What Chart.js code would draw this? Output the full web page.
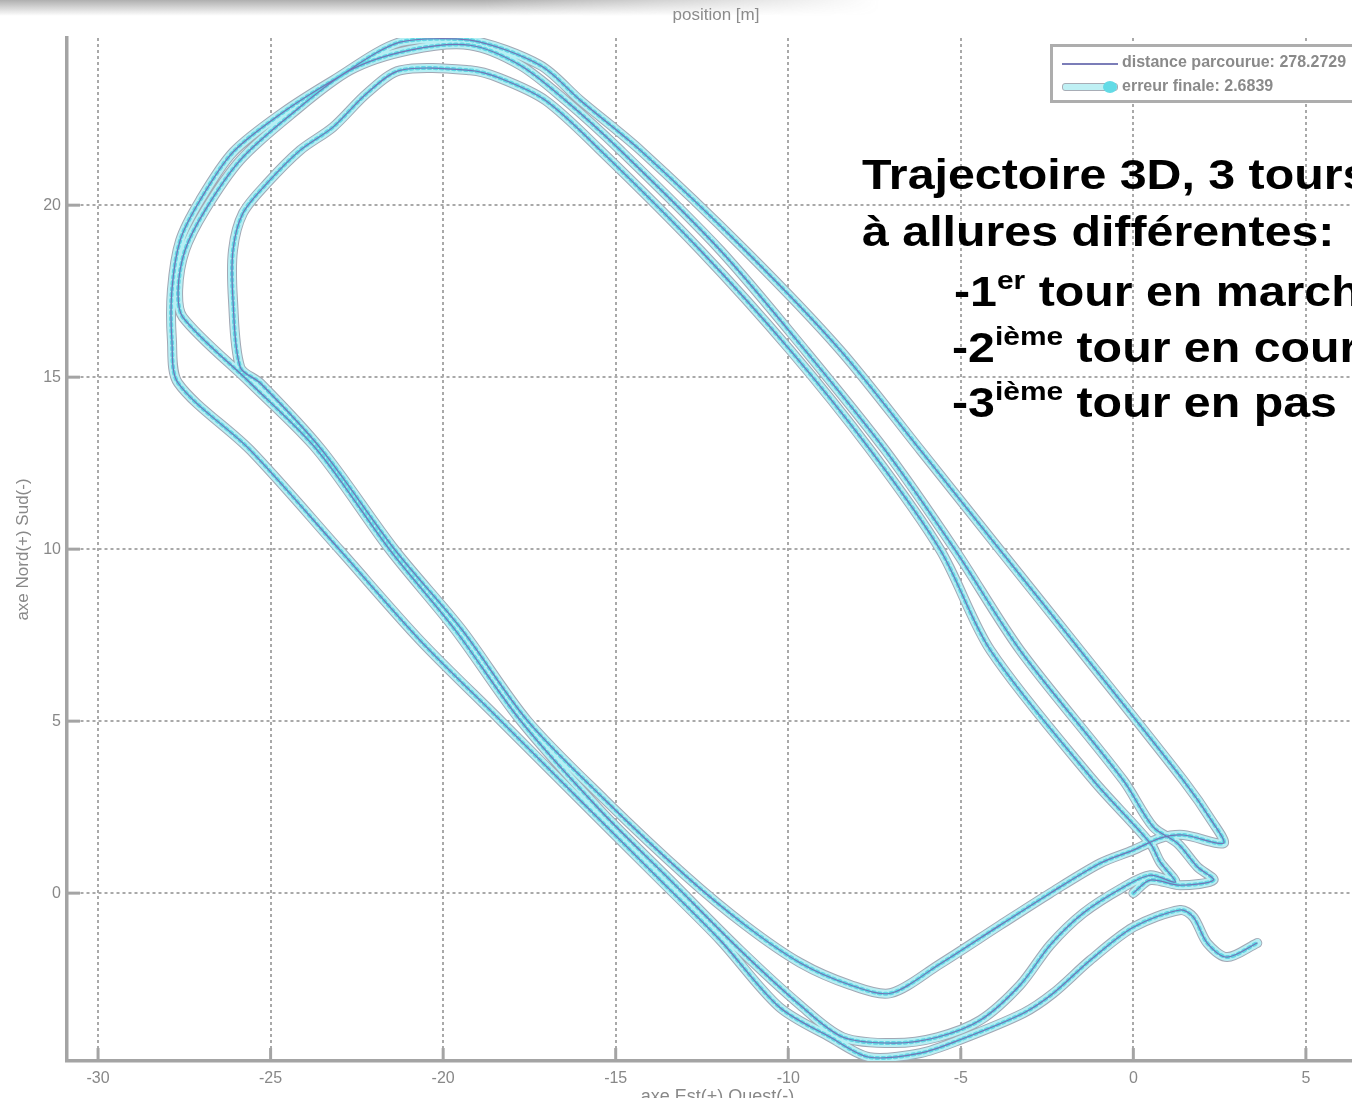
<!DOCTYPE html>
<html>
<head>
<meta charset="utf-8">
<script src="https://cdn.jsdelivr.net/npm/chart.js@4.4.1/dist/chart.umd.min.js"></script>
<style>
  html, body { margin: 0; padding: 0; background: #fff; overflow: hidden; }
  #wrap { position: relative; width: 1352px; height: 1098px; overflow: hidden; background: #fff; }
  #plot { position: absolute; left: 0; top: 0; filter: blur(0.6px); }
  .shade { position: absolute; left: 0; top: 0; width: 880px; height: 16px;
    background: linear-gradient(to bottom, rgba(110,110,110,0.55), rgba(255,255,255,0));
    -webkit-mask-image: linear-gradient(to right, #000 55%, transparent);
    mask-image: linear-gradient(to right, #000 55%, transparent); }
  .ptitle { position: absolute; top: 5px; left: 566px; width: 300px; text-align: center;
    font: 17px "Liberation Sans", Arial, sans-serif; color: #8c8c8c; filter: blur(0.6px); }
  .legend { position: absolute; left: 1050px; top: 44px; width: 360px; height: 53px;
    border: 3px solid #adadad; background: #fff; filter: blur(0.6px); }
  .lrow { position: absolute; left: 0; height: 20px; width: 100%; }
  .lt { position: absolute; left: 69px; top: -1px; font: bold 16px "Liberation Sans", Arial, sans-serif;
    color: #8a8a8a; white-space: nowrap; }
  .s1 { position: absolute; left: 9px; top: 9px; width: 56px; height: 0; border-top: 2px solid #7b7db8; }
  .s2 { position: absolute; left: 9px; top: 5px; width: 54px; height: 6px; background: #bff0f4;
    border: 1px solid #a8adb6; border-radius: 3px; }
  .s2dot { position: absolute; left: 50px; top: 3px; width: 14px; height: 12px; border-radius: 50%;
    background: #63dbe6; }
  .note { position: absolute; font: bold 42px/42px "Liberation Sans", Arial, sans-serif; color: #000;
    transform-origin: 0 0; transform: scaleX(1.15); white-space: nowrap; }
  .note sup { font-size: 26px; line-height: 0; vertical-align: baseline; position: relative; top: -17px; }
</style>
</head>
<body>
<div id="wrap">
  <canvas id="plot" width="1400" height="1108" style="width:1400px;height:1108px"></canvas>
  <div class="shade"></div>
  <div class="ptitle">position [m]</div>
  <div class="legend">
    <div class="lrow" style="top:7px"><span class="s1"></span><span class="lt" id="lg0"></span></div>
    <div class="lrow" style="top:31px"><span class="s2"></span><span class="s2dot"></span><span class="lt" id="lg1"></span></div>
  </div>
  <div class="note" style="left:862px;top:154px">Trajectoire 3D, 3 tours</div>
  <div class="note" style="left:862px;top:211px">à allures différentes:</div>
  <div class="note" style="left:954px;top:271px">-1<sup>er</sup> tour en marche</div>
  <div class="note" style="left:952px;top:327px">-2<sup>ième</sup> tour en course</div>
  <div class="note" style="left:952px;top:382px">-3<sup>ième</sup> tour en pas</div>
</div>
<script>
// Lap 1: start, up the east straight, round the north-west bend, back down to the start area
const lap1X = [0.00, 0.49, 1.36, 2.32, 1.86, 1.28, 0.58, -0.29, -3.28, -5.16, -7.19, -9.51, -11.97, -14.87,
  -16.46, -17.77, -19.22, -20.96, -22.70, -24.43, -25.88, -26.90, -27.48, -27.68, -27.54, -25.59, -23.65,
  -21.54, -19.65, -17.77, -15.45, -13.42, -11.39, -9.65, -8.41, -6.93, -5.68, -4.43, -3.28, -2.41, -1.45,
  -0.29, 0.49, 1.22, 0.78, 0.49];
const lap1Y = [0.00, 0.38, 0.23, 0.38, 0.76, 1.45, 1.92, 3.28, 7.06, 9.97, 12.88, 15.78, 18.69, 21.60,
  23.05, 24.07, 24.65, 24.51, 23.92, 22.62, 21.31, 19.85, 18.69, 17.53, 16.74, 14.83, 12.88,
  9.97, 7.65, 5.03, 2.41, 0.38, -1.66, -3.26, -4.19, -4.36, -4.19, -3.69, -2.67, -1.51, -0.58,
  0.17, 0.52, 0.32, 0.90, 1.45];

// Lap 2: inner lap, ends on the hook east of the start
const lap2X = [-1.16, -4.14, -5.59, -7.62, -9.94, -12.55, -15.45, -17.04, -18.35, -19.22, -21.25, -22.20,
  -23.19, -24.14, -25.10, -25.80, -26.09, -26.09, -25.88, -25.30, -23.51, -21.39, -19.45, -17.57, -15.30,
  -12.99, -11.25, -9.65, -8.20, -7.04, -5.65, -3.86, -2.41, -0.96, 0.00, 0.78, 1.45, 2.61];
const lap2Y = [3.28, 7.06, 9.97, 12.88, 15.78, 18.69, 21.60, 23.05, 23.69, 23.92, 23.92, 23.26,
  22.27, 21.60, 20.64, 19.77, 18.69, 17.24, 15.29, 14.83, 12.88, 9.97, 7.65, 5.03, 2.70,
  0.52, -0.93, -2.03, -2.67, -2.91, -2.09, -0.93, 0.00, 0.87, 1.25, 1.60, 1.69, 1.45];

// Lap 3: outer lap, finishing south-east of the start
const lap3X = [2.32, 1.45, -1.54, -3.86, -6.17, -8.49, -11.25, -14.29, -16.03, -17.19, -19.22, -21.25,
  -23.19, -24.64, -26.09, -27.04, -27.62, -27.86, -27.86, -27.68, -25.59, -22.99, -20.67, -18.35, -16.03,
  -13.71, -11.97, -10.26, -8.78, -7.65, -6.17, -5.04, -3.19, -2.32, -1.25, 0.00, 1.36, 1.74, 2.14, 2.72, 3.59];
const lap3Y = [2.03, 3.28, 7.06, 9.97, 12.88, 15.78, 18.69, 21.60, 23.05, 24.07, 24.80, 24.74,
  23.63, 22.70, 21.54, 20.15, 18.98, 17.53, 16.08, 14.83, 12.88, 9.97, 7.35, 5.03, 2.70,
  0.38, -1.37, -3.31, -4.19, -4.77, -4.65, -4.27, -3.49, -2.91, -1.95, -0.99, -0.49, -0.70, -1.45, -1.86, -1.45];

const xLimits = [-30.9, 6.8];
const yLimits = [-4.88, 24.86];
const xTickValues = [-30, -25, -20, -15, -10, -5, 0, 5];
const yTickValues = [0, 5, 10, 15, 20];
const seriesLabels = ['distance parcourue: 278.2729', 'erreur finale: 2.6839'];
const axisTitles = { x: 'axe Est(+) Ouest(-)', y: 'axe Nord(+) Sud(-)' };

// one continuous path made of the three laps
const path = [];
[[lap1X, lap1Y], [lap2X, lap2Y], [lap3X, lap3Y]].forEach(([xs, ys]) => {
  xs.forEach((x, i) => path.push({ x: x, y: ys[i] }));
});

document.getElementById('lg0').textContent = seriesLabels[0];
document.getElementById('lg1').textContent = seriesLabels[1];

Chart.defaults.font.family = '"Liberation Sans", Arial, sans-serif';

const lineCommon = { showLine: true, pointRadius: 0, pointHoverRadius: 0, tension: 0.3, fill: false,
  borderCapStyle: 'round', borderJoinStyle: 'round' };

// MATLAB-style ticks pointing into the plot
const inwardTicks = {
  id: 'inwardTicks',
  afterDraw(chart) {
    const { ctx, chartArea: a, scales: { x, y } } = chart;
    ctx.save();
    ctx.strokeStyle = '#a4a4a4';
    ctx.lineWidth = 3;
    x.ticks.forEach(t => {
      const px = x.getPixelForValue(t.value);
      ctx.beginPath(); ctx.moveTo(px, a.bottom); ctx.lineTo(px, a.bottom - 13); ctx.stroke();
    });
    y.ticks.forEach(t => {
      const py = y.getPixelForValue(t.value);
      ctx.beginPath(); ctx.moveTo(a.left, py); ctx.lineTo(a.left + 13, py); ctx.stroke();
    });
    ctx.restore();
  }
};

new Chart(document.getElementById('plot'), {
  type: 'scatter',
  data: {
    datasets: [
      Object.assign({ label: seriesLabels[0], data: path, borderColor: '#7175b8', borderWidth: 1.2, order: 0 }, lineCommon),
      Object.assign({ label: 'speckle', data: path, borderColor: '#62d7e4', borderWidth: 4, borderDash: [2, 4], order: 1 }, lineCommon),
      Object.assign({ label: seriesLabels[1], data: path, borderColor: '#b6eff4', borderWidth: 8, order: 2 }, lineCommon),
      Object.assign({ label: 'edge', data: path, borderColor: '#a2a7b4', borderWidth: 10, order: 3 }, lineCommon)
    ]
  },
  options: {
    responsive: false,
    maintainAspectRatio: false,
    animation: false,
    devicePixelRatio: 1,
    layout: { padding: { top: 38, right: 32, left: 0, bottom: 0 } },
    plugins: { legend: { display: false }, tooltip: { enabled: false }, title: { display: false } },
    scales: {
      x: {
        type: 'linear', min: xLimits[0], max: xLimits[1],
        afterBuildTicks: s => { s.ticks = xTickValues.map(v => ({ value: v })); },
        afterFit: s => { s.height = 47; },
        grid: { color: '#a9a9a9', lineWidth: 2, drawTicks: false },
        border: { display: true, color: '#a4a4a4', width: 3.5, dash: [3, 3] },
        ticks: { color: '#888888', font: { size: 16 }, padding: 8, maxRotation: 0 },
        title: { display: true, text: axisTitles.x, color: '#888888', font: { size: 18 }, padding: { top: 0, bottom: 0 } }
      },
      y: {
        type: 'linear', min: yLimits[0], max: yLimits[1],
        afterBuildTicks: s => { s.ticks = yTickValues.map(v => ({ value: v })); },
        afterFit: s => { s.width = 67; },
        grid: { color: '#a9a9a9', lineWidth: 2, drawTicks: false },
        border: { display: true, color: '#a4a4a4', width: 3.5, dash: [3, 3] },
        ticks: { color: '#888888', font: { size: 16 }, padding: 6 },
        title: { display: true, text: axisTitles.y, color: '#888888', font: { size: 17 }, padding: { top: 13, bottom: 0 } }
      }
    }
  },
  plugins: [inwardTicks]
});
</script>
</body>
</html>
